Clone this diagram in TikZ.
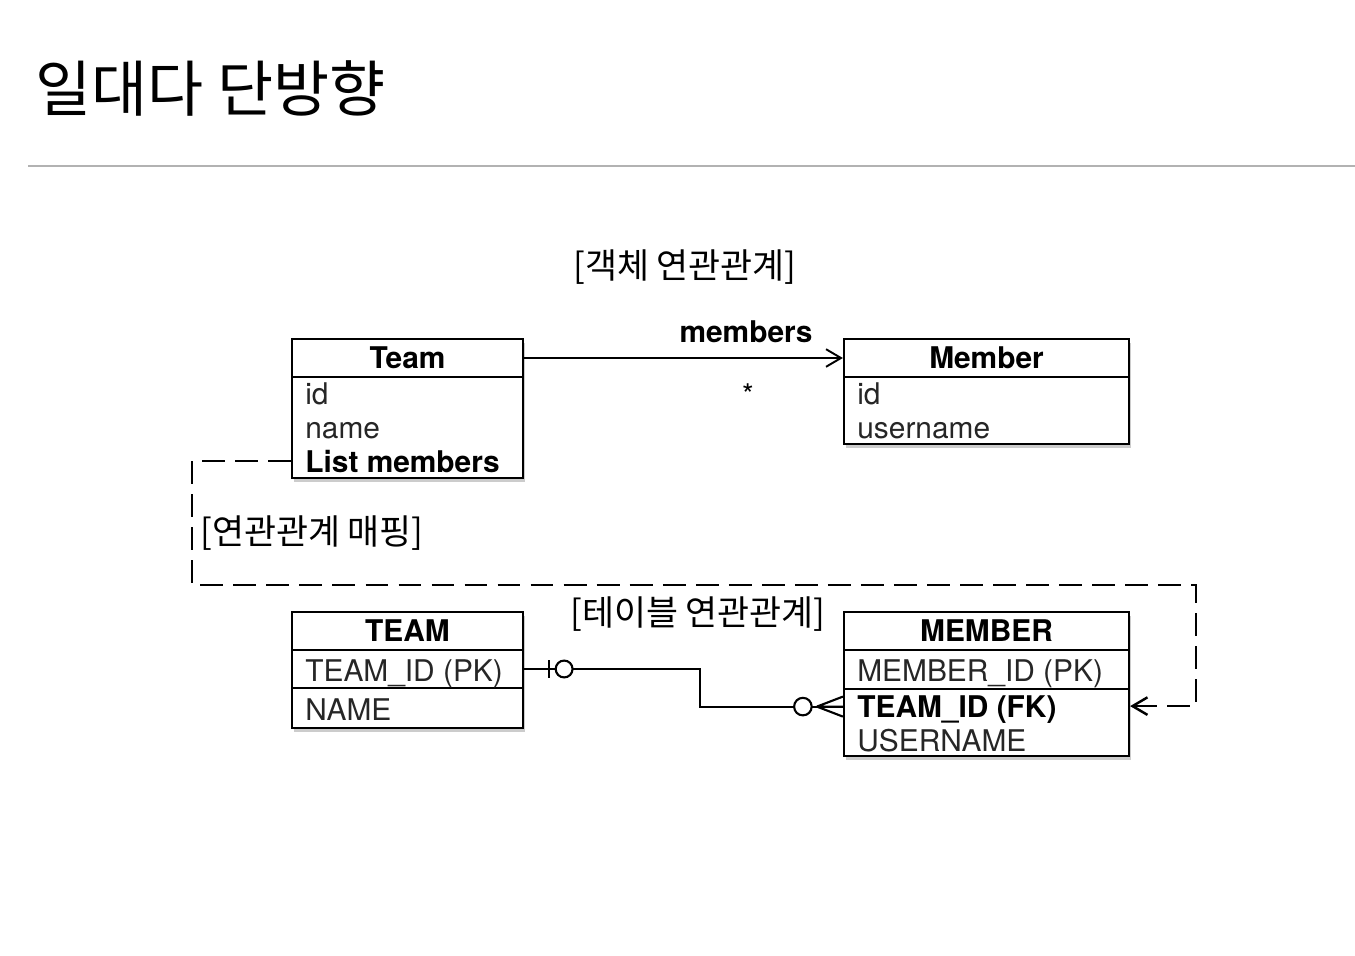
\documentclass[tikz,border=0pt]{standalone}
\usepackage{fontspec}
\setmainfont{TeX Gyre Heros}
\newfontfamily\kr{Noto Sans CJK KR}
\usetikzlibrary{arrows.meta,calc,shadows}

\begin{document}
\begin{tikzpicture}[
  x=0.02cm, y=-0.02cm,
  font=\fontsize{17}{20}\selectfont,
  >={Straight Barb[length=8.5pt,width=10pt]},
  box/.style={draw, line width=1.3pt, fill=white, inner sep=0pt, drop shadow={opacity=0.4, shadow xshift=1.2pt, shadow yshift=-2pt}},
  teambox/.style={box, minimum width=4.62cm},
  membox/.style={box, minimum width=5.7cm},
  hdr/.style={minimum height=0.76cm, font=\fontsize{17}{20}\selectfont\bfseries},
  attr/.style={anchor=base west, inner sep=0pt, text=black!85},
  key/.style={attr, font=\fontsize{17}{20}\selectfont\bfseries, text=black},
  caption/.style={font=\kr\fontsize{19.8}{22}\selectfont, inner sep=0pt},
  arr/.style={->, line width=1.1pt},
  mapline/.style={->, line width=1.4pt, dash pattern=on 13pt off 5.8pt},
  erline/.style={line width=1.2pt}
]
\useasboundingbox (0,0) rectangle (1355,956);
\node[font=\kr\fontsize{34.7}{38}\selectfont, anchor=west, inner sep=0pt] (title) at (35,88) {일대다 단방향};
\draw[black!30, line width=0.6pt] (28,166) -- (1355,166);

\node[caption] (objcap) at (685,267) {[객체 연관관계]};
\node[teambox, hdr] (teamH) at (407.5,358) {Team};
\node[teambox, minimum height=2.02cm] (teamB) at (407.5,427.5) {};
\node[attr] (tid) at (305,404) {id};
\node[attr] (tname) at (305,438) {name};
\node[key] (tlist) at (305,472) {List members};
\node[membox, hdr] (memH) at (986.5,358) {Member};
\node[membox, minimum height=1.34cm] (memB) at (986.5,410.5) {};
\node[attr] (mid) at (857,404) {id};
\node[attr] (muser) at (857,438) {username};
\draw[arr] (teamH.east) -- (memH.west);
\node[font=\fontsize{17}{20}\selectfont\bfseries, anchor=base, inner sep=0pt] (rel) at (746,342) {members};
\node[anchor=base, inner sep=0pt] (mult) at (748,405) {*};

\node[caption, anchor=west] (mapcap) at (200,533) {[연관관계 매핑]};
\node[caption] (tblcap) at (698,614) {[테이블 연관관계]};
\node[teambox, hdr] (TEAMH) at (407.5,631) {TEAM};
\node[teambox, minimum height=0.76cm] (TEAMpk) at (407.5,669) {};
\node[teambox, minimum height=0.80cm] (TEAMnm) at (407.5,708) {};
\node[attr] (tpk) at (305,681) {TEAM\_ID (PK)};
\node[attr] (tnm) at (305,720) {NAME};
\node[membox, hdr] (MEMH) at (986.5,631) {MEMBER};
\node[membox, minimum height=0.78cm] (MEMpk) at (986.5,669.5) {};
\node[membox, minimum height=1.34cm] (MEMB) at (986.5,722.5) {};
\node[attr] (mpk) at (857,681) {MEMBER\_ID (PK)};
\node[key] (mfk) at (857,717) {TEAM\_ID (FK)};
\node[attr] (muname) at (857,751) {USERNAME};

\coordinate (mapL) at (192,585);
\coordinate (mapR) at (1196,585);
\coordinate (fkW) at ($(MEMB.west |- mfk.center)+(0,-2.5)$);
\coordinate (fkE) at ($(MEMB.east |- mfk.center)+(0,-3)$);
\draw[mapline] (teamB.west |- tlist.center) -| (mapL) -- (mapR) |- (fkE);

\coordinate (erBend) at (700,688);
\draw[erline] (TEAMpk.east) -| (erBend) |- (fkW);
\draw[erline] ($(TEAMpk.east)+(25,-9)$) -- ++(0,18);
\draw[erline, fill=white] ($(TEAMpk.east)+(40,0)$) circle[radius=4.8pt];
\draw[erline] ($(fkW)+(-26,0)$) -- ($(fkW)+(0,-10)$)
  ($(fkW)+(-26,0)$) -- (fkW)
  ($(fkW)+(-26,0)$) -- ($(fkW)+(0,10)$);
\draw[erline, fill=white] ($(fkW)+(-40,0)$) circle[radius=5pt];
\end{tikzpicture}
\end{document}
